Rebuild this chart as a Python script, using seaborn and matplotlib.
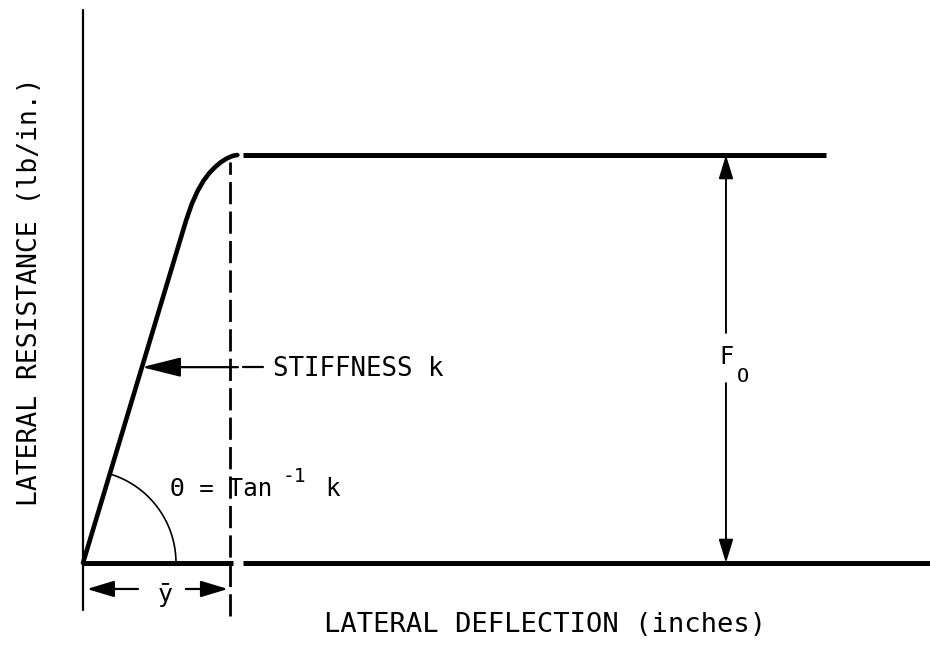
import numpy as np
import pandas as pd
import matplotlib
matplotlib.use('Agg')
import matplotlib.pyplot as plt
import seaborn as sns

# load-deflection curve, deflection in units of y-bar, resistance in units of F_o
deflection = [0.0, 0.70, 0.74, 0.78, 0.82, 0.86, 0.90, 0.94, 0.98, 1.02, 1.05]
resistance = [0.0, 0.838, 0.880, 0.912, 0.937, 0.956, 0.971, 0.983, 0.992, 0.998, 1.0]
plateau_x = [1.088, 5.054]
plateau_y = [1.0, 1.0]
base_left_x = [0.0, 1.02]
base_right_x = [1.088, 5.77]
base_y = [0.0, 0.0]
y_bar = 1.0
f_o = 1.0
stiff_level = 0.48      # where the stiffness arrow hits the line
theta_deg = 73.25

x_label = 'LATERAL DEFLECTION (inches)'
y_label = 'LATERAL RESISTANCE (lb/in.)'
stiff_label = 'STIFFNESS k'

sns.set_style('white')
plt.rcParams['font.family'] = ['DejaVu Sans Mono', 'DejaVu Sans']
plt.rcParams['text.color'] = 'black'

fig = plt.figure(figsize=(9.3, 6.47), dpi=100)
ax = fig.add_axes([0, 0, 1, 1])
ax.set_xlim(-0.5646, 5.762)
ax.set_ylim(-0.2059, 1.3799)
ax.axis('off')

k = pd.DataFrame({'x': deflection, 'y': resistance})
sns.lineplot(data=k, x='x', y='y', sort=False, color='black', lw=3.3, ax=ax,
             solid_capstyle='round', solid_joinstyle='round')
sns.lineplot(x=plateau_x, y=plateau_y, color='black', lw=3.6, ax=ax, solid_capstyle='butt')
sns.lineplot(x=base_left_x, y=base_y, color='black', lw=3.6, ax=ax, solid_capstyle='butt')
sns.lineplot(x=base_right_x, y=base_y, color='black', lw=3.6, ax=ax, solid_capstyle='butt')

# vertical axis line and dashed y-bar line
ax.plot([0, 0], [-0.115, 1.355], color='black', lw=1.6)
ax.plot([y_bar, y_bar], [-0.13, 0.983], color='black', lw=2.0, linestyle=(0, (8, 2.6)))

# stiffness arrow
slope_x = stiff_level * deflection[1] / resistance[1]
ax.annotate('', xy=(slope_x, stiff_level), xytext=(1.054, stiff_level),
            arrowprops=dict(arrowstyle='-|>,head_length=0.8,head_width=0.2',
                            mutation_scale=30, lw=1.6, color='black',
                            shrinkA=0, shrinkB=0))
ax.plot([1.088, 1.224], [stiff_level, stiff_level], color='black', lw=1.6)
ax.text(1.293, 0.475, stiff_label, fontsize=18.5, ha='left', va='center', color='black')

# F_o dimension arrows
fx = 4.374
for a, b in [(0.564, f_o), (0.441, 0.0)]:
    ax.annotate('', xy=(fx, b), xytext=(fx, a),
                arrowprops=dict(arrowstyle='-|>,head_length=0.72,head_width=0.22',
                                mutation_scale=20, lw=1.4, color='black',
                                shrinkA=0, shrinkB=0))
ax.text(4.381, 0.505, 'F', fontsize=17, ha='center', va='center', color='black')
ax.text(4.49, 0.456, 'O', fontsize=14.5, ha='center', va='center', color='black')

# y-bar dimension arrows
yd = -0.0637
for a, b in [(0.374, 0.027), (0.70, 0.986)]:
    ax.annotate('', xy=(b, yd), xytext=(a, yd),
                arrowprops=dict(arrowstyle='-|>,head_length=0.83,head_width=0.25',
                                mutation_scale=20, lw=1.6, color='black',
                                shrinkA=0, shrinkB=0))
ax.text(0.558, -0.078, 'ȳ', fontsize=18, ha='center', va='center', color='black')

# angle arc (93 px radius, converted to data units)
t = np.radians(np.linspace(0, theta_deg, 60))
ax.plot(93 / 147 * np.cos(t), 93 / 408 * np.sin(t), color='black', lw=1.2)
ax.text(0.592, 0.181, 'Θ = Tan', fontsize=17.5, ha='left', va='center', color='black')
ax.text(1.36, 0.213, '-1', fontsize=14, ha='left', va='center', color='black')
ax.text(1.70, 0.181, 'k', fontsize=17.5, ha='center', va='center', color='black')

ax.text(3.143, -0.152, x_label, fontsize=19.5, ha='center', va='center', color='black')
ax.text(-0.361, 0.664, y_label, fontsize=19, ha='center', va='center', rotation=90,
        color='black')

plt.savefig('out.png', dpi=100)
